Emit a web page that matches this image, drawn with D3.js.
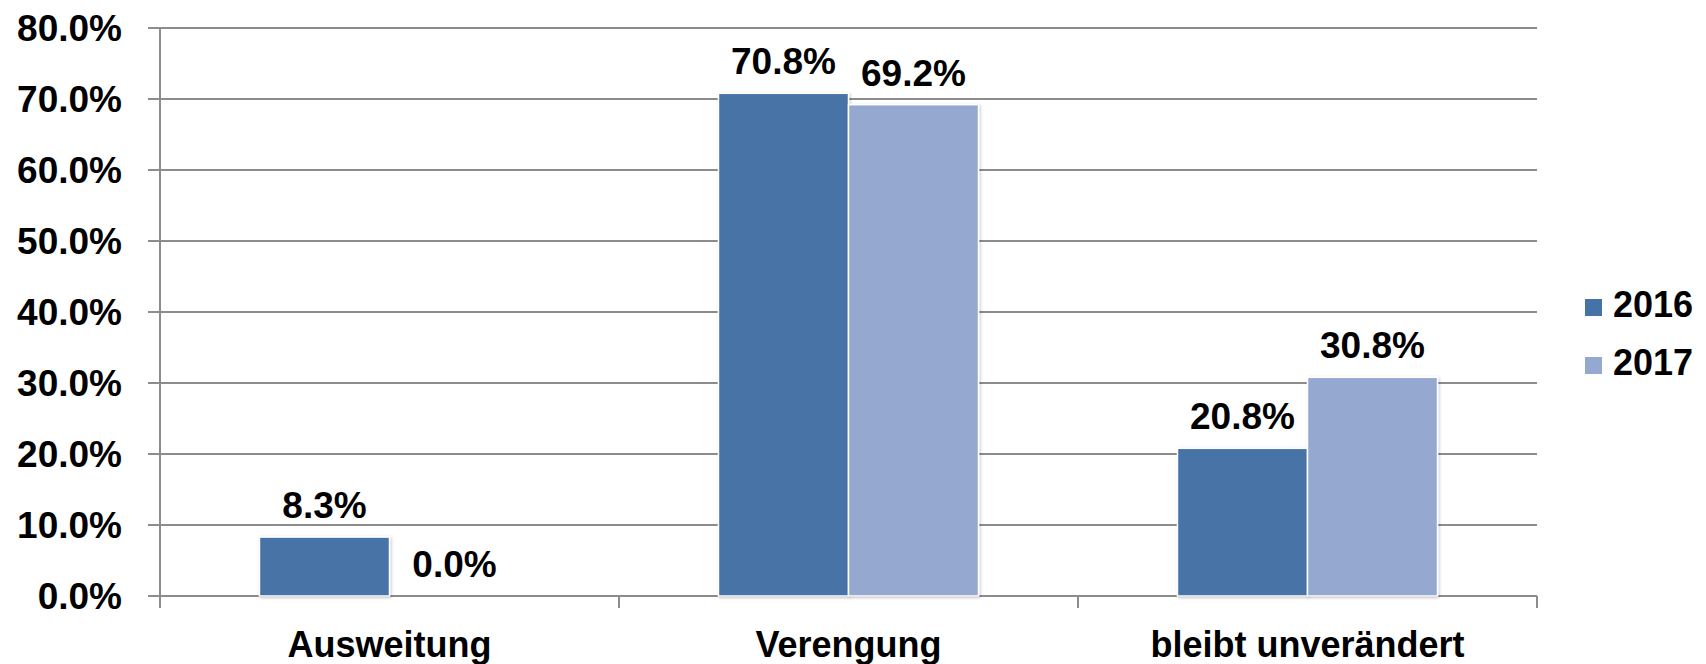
<!DOCTYPE html>
<html lang="de">
<head>
    <meta charset="UTF-8">
    <title>Ausweitung / Verengung</title>
    <script src="https://d3js.org/d3.v7.min.js"></script>
    <style>
        body {
            margin: 0;
            background: #fff;
            font-family: 'Liberation Sans', Arial, Helvetica, sans-serif;
        }
        svg text {
            font-weight: bold;
            fill: #000;
        }
    </style>
</head>
<body>
    <div id="chart"></div>

    <script>
        // data
        const categories = ["Ausweitung", "Verengung", "bleibt unverändert"];
        const years = ["2016", "2017"];
        const values2016 = [0.083, 0.708, 0.208];
        const values2017 = [0.0, 0.692, 0.308];
        const yTicks = [0, 0.1, 0.2, 0.3, 0.4, 0.5, 0.6, 0.7, 0.8];
        const colors = ["#4673a7", "#95a9d0"];

        const width = 1706, height = 664;
        const plotLeft = 160, plotRight = 1537, plotTop = 28, plotBottom = 596;

        const svg = d3.select("#chart")
            .append("svg")
            .attr("width", width)
            .attr("height", height);

        const defs = svg.append("defs");
        const shadow = defs.append("filter").attr("id", "shadow")
            .attr("x", "-10%").attr("y", "-10%").attr("width", "130%").attr("height", "130%");
        shadow.append("feDropShadow")
            .attr("dx", 1).attr("dy", 1).attr("stdDeviation", 1.5)
            .attr("flood-color", "#000").attr("flood-opacity", 0.25);

        const x = d3.scaleBand().domain(categories).range([plotLeft, plotRight]);
        const xInner = d3.scaleBand().domain(years)
            .range([0, x.bandwidth()]).paddingInner(0).paddingOuter(0.765);
        const y = d3.scaleLinear().domain([0, 0.8]).range([plotBottom, plotTop]);

        const fmt = d3.format(".1%");

        // gridlines
        svg.append("g")
            .selectAll("line")
            .data(yTicks)
            .enter().append("line")
            .attr("x1", plotLeft - 12)
            .attr("x2", plotRight)
            .attr("y1", d => y(d))
            .attr("y2", d => y(d))
            .attr("stroke", "#8c8c8c")
            .attr("stroke-width", 2);

        // y axis line
        svg.append("line")
            .attr("x1", plotLeft).attr("x2", plotLeft)
            .attr("y1", plotTop).attr("y2", plotBottom + 12)
            .attr("stroke", "#8c8c8c").attr("stroke-width", 2);

        // x axis ticks at category borders
        const borders = categories.map(c => x(c)).concat([plotRight]);
        svg.append("g")
            .selectAll("line")
            .data(borders)
            .enter().append("line")
            .attr("x1", d => d).attr("x2", d => d)
            .attr("y1", plotBottom).attr("y2", plotBottom + 12)
            .attr("stroke", "#8c8c8c").attr("stroke-width", 2);

        // y tick labels
        svg.append("g")
            .selectAll("text")
            .data(yTicks)
            .enter().append("text")
            .attr("x", 122)
            .attr("y", d => y(d))
            .attr("dy", "0.35em")
            .attr("text-anchor", "end")
            .style("font-size", "37px")
            .text(d => fmt(d));

        // category labels
        svg.append("g")
            .selectAll("text")
            .data(categories)
            .enter().append("text")
            .attr("x", d => x(d) + x.bandwidth() / 2)
            .attr("y", 657)
            .attr("text-anchor", "middle")
            .style("font-size", "36px")
            .text(d => d);

        // bars
        const rows = categories.map((c, i) => ({
            category: c,
            values: [
                {year: years[0], value: values2016[i], color: colors[0]},
                {year: years[1], value: values2017[i], color: colors[1]}
            ]
        }));

        const groups = svg.append("g")
            .selectAll("g")
            .data(rows)
            .enter().append("g")
            .attr("transform", d => `translate(${x(d.category)},0)`);

        groups.selectAll("rect")
            .data(d => d.values)
            .enter().append("rect")
            .attr("x", d => xInner(d.year))
            .attr("y", d => y(d.value))
            .attr("width", xInner.bandwidth())
            .attr("height", d => plotBottom - y(d.value))
            .attr("fill", d => d.color)
            .attr("stroke", "#fff")
            .attr("stroke-width", 1.5)
            .attr("filter", "url(#shadow)");

        groups.selectAll("text")
            .data(d => d.values)
            .enter().append("text")
            .attr("x", d => xInner(d.year) + xInner.bandwidth() / 2)
            .attr("y", d => y(d.value) - 19)
            .attr("text-anchor", "middle")
            .style("font-size", "37px")
            .text(d => fmt(d.value));

        // legend
        const legend = svg.append("g")
            .selectAll("g")
            .data(years)
            .enter().append("g")
            .attr("transform", (d, i) => `translate(1585,${299 + i * 58})`);

        legend.append("rect")
            .attr("width", 17)
            .attr("height", 17)
            .attr("fill", (d, i) => colors[i]);

        legend.append("text")
            .attr("x", 28)
            .attr("y", 18)
            .style("font-size", "36px")
            .text(d => d);
    </script>
</body>
</html>
